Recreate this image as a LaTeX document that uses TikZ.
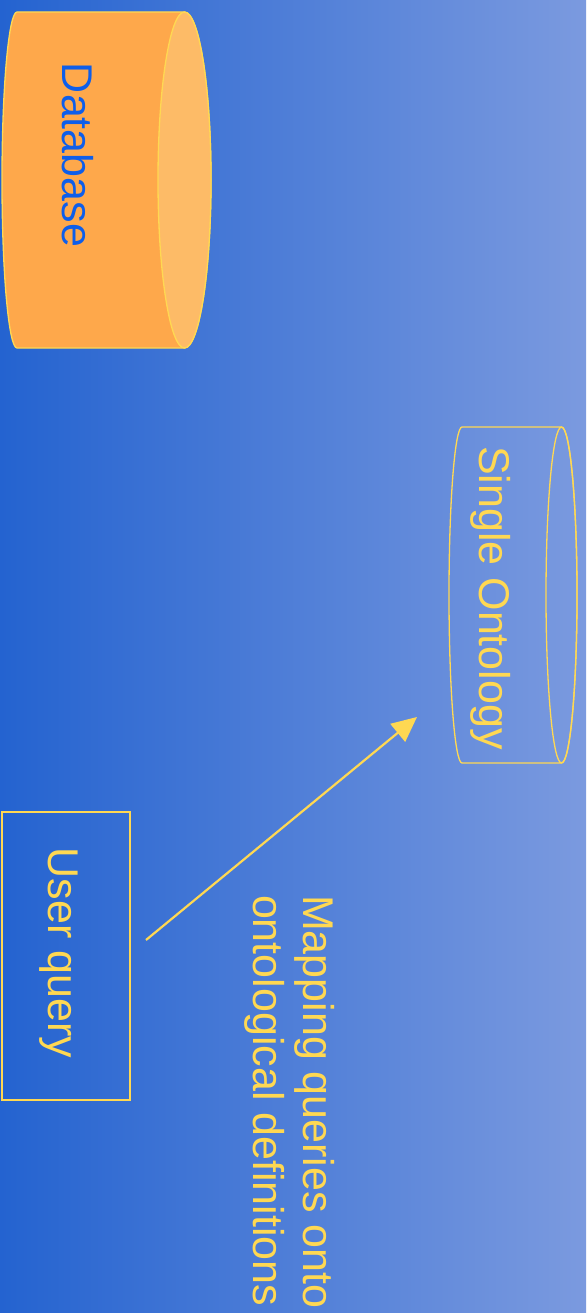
\documentclass[tikz,border=0pt]{standalone}
\usepackage{fontspec}
\setmainfont{Liberation Sans}
\usepackage{xcolor}
\usepackage{tikz}
\usetikzlibrary{positioning,arrows.meta}
\definecolor{bgleft}{HTML}{2463D0}
\definecolor{bgright}{HTML}{7B9ADF}
\definecolor{ylw}{HTML}{FFD852}
\definecolor{dbbody}{HTML}{FEA84B}
\definecolor{dbend}{HTML}{FDBB67}
\definecolor{dbtext}{HTML}{0E5EEA}

\begin{document}
\begin{tikzpicture}[x=1pt,y=-1pt,
    every node/.style={inner sep=0pt,outer sep=0pt},
    lbl/.style={rotate=-90,text=ylw,font=\fontsize{43}{50}\selectfont},
    body/.style={minimum height=336pt},
    box/.style={draw=ylw,line width=1.3pt,minimum width=128pt,minimum height=288pt}]
    \shade[left color=bgleft,right color=bgright] (0,0) rectangle (586,1313);
    \useasboundingbox (0,0) rectangle (586,1313);
    \node[body,minimum width=167.5pt] (DB) at (100.75,180) {};
    \filldraw[fill=dbbody,draw=ylw,line width=1.3pt] (DB.north west) -- (DB.north east)
      arc[start angle=90,end angle=-90,x radius=26.5pt,y radius=168pt] -- (DB.south west)
      arc[start angle=270,end angle=90,x radius=15pt,y radius=168pt] -- cycle;
    \filldraw[fill=dbend,draw=ylw,line width=1.3pt] (DB.east) ellipse[x radius=26.5pt,y radius=168pt];
    \node[lbl,text=dbtext,anchor=base] (DBlabel) at (62,155) {Database};
    \node[body,minimum width=99.5pt] (Onto) at (511.75,595) {};
    \draw[ylw,line width=1.3pt] (Onto.north west) -- (Onto.north east)
      arc[start angle=90,end angle=-90,x radius=15.5pt,y radius=168pt] -- (Onto.south west)
      arc[start angle=270,end angle=90,x radius=13pt,y radius=168pt] -- cycle;
    \draw[ylw,line width=1.3pt] (Onto.east) ellipse[x radius=15.5pt,y radius=168pt];
    \node[lbl,anchor=base] (Ontolabel) at (479,598) {Single Ontology};
    \node[box] (Query) at (66,956) {};
    \node[lbl,anchor=base] (Querylabel) at (48,953) {User query};
    \node[lbl,anchor=base west,align=left] (Mapping) at (253,895)
      {Mapping queries onto\\ontological definitions};
    \coordinate[below left=122pt and 45pt of Onto.west] (OntoIn);
    \draw[ylw,line width=2.2pt,-{Triangle[length=25pt,width=23pt]}]
      ([xshift=16pt,yshift=16pt]Query.east) -- (OntoIn);
\end{tikzpicture}
\end{document}
